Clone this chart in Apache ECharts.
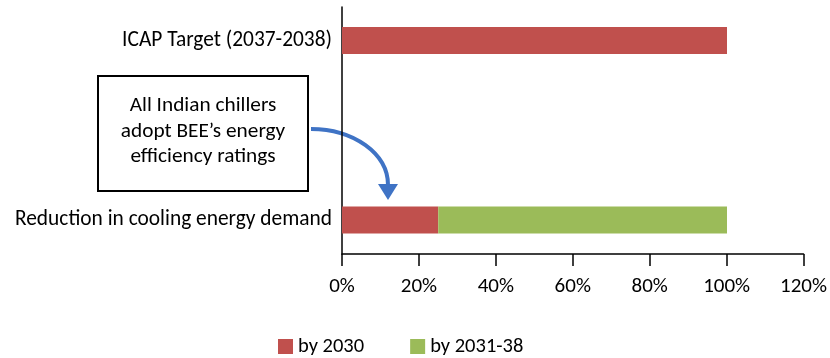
<!DOCTYPE html>
<html>
<head>
<meta charset="utf-8">
<script src="https://cdn.jsdelivr.net/npm/echarts@6/dist/echarts.min.js"></script>
<style>html,body{margin:0;padding:0;background:#fff;}#c{width:830px;height:358px;}</style>
</head>
<body>
<div id="c"></div>
<script>
const categories = ['Reduction in cooling energy demand', 'ICAP Target (2037-2038)'];
const seriesNames = ['by 2030', 'by 2031-38'];
const by2030 = [25, 100];
const by2031_38 = [75, 0];
const xTicks = [0, 20, 40, 60, 80, 100, 120];

const FONT = 'Carlito, Lato, sans-serif';
const chart = echarts.init(document.getElementById('c'), null, {renderer: 'canvas'});
chart.setOption({
  animation: false,
  textStyle: {fontFamily: FONT},
  grid: [
    {left: 342, right: 26, top: 7, bottom: 104},
    {left: 342, right: 26, top: 40.5, bottom: 138}
  ],
  xAxis: [
    {
      type: 'value', gridIndex: 0, min: xTicks[0], max: xTicks[xTicks.length - 1], interval: 20,
      axisLine: {show: true, lineStyle: {color: '#000', width: 1.5}},
      axisTick: {show: true, length: 12, lineStyle: {color: '#000', width: 1.5}},
      splitLine: {show: false},
      axisLabel: {formatter: '{value}%', fontSize: 21, color: '#000', margin: 22, fontFamily: FONT}
    },
    {type: 'value', gridIndex: 1, min: 0, max: 120, show: false}
  ],
  yAxis: [
    {
      type: 'category', gridIndex: 0, data: ['', ''],
      axisLine: {show: true, lineStyle: {color: '#000', width: 1.5}},
      axisTick: {show: false}, axisLabel: {show: false}
    },
    {
      type: 'category', gridIndex: 1, data: categories, boundaryGap: false,
      axisLine: {show: false}, axisTick: {show: false},
      axisLabel: {fontSize: 21.4, color: '#000', margin: 10, fontFamily: FONT}
    }
  ],
  legend: {
    left: 273, top: 331, icon: 'rect', itemWidth: 15, itemHeight: 15, itemGap: 46,
    textStyle: {fontSize: 20.5, color: '#000', fontFamily: FONT},
    data: seriesNames
  },
  series: [
    {name: seriesNames[0], type: 'bar', stack: 't', xAxisIndex: 1, yAxisIndex: 1, data: by2030, barWidth: 27, clip: false, itemStyle: {color: '#C0504D'}},
    {name: seriesNames[1], type: 'bar', stack: 't', xAxisIndex: 1, yAxisIndex: 1, data: by2031_38, barWidth: 27, clip: false, itemStyle: {color: '#9BBB59'}}
  ],
  graphic: [
    {type: 'rect', shape: {x: 98, y: 76, width: 210, height: 115}, style: {fill: '#fff', stroke: '#000', lineWidth: 2}},
    {type: 'text', x: 203, y: 131.5, style: {text: 'All Indian chillers\nadopt BEE\u2019s energy\nefficiency ratings', fontSize: 21.3, lineHeight: 25.5, fontFamily: FONT, fill: '#000', align: 'center', verticalAlign: 'middle'}},
    {type: 'bezierCurve', shape: {x1: 311, y1: 129, cpx1: 353.5, cpy1: 129, cpx2: 388, cpy2: 153.6, x2: 388, y2: 185}, style: {stroke: '#3F73C5', lineWidth: 4, fill: null}},
    {type: 'polygon', shape: {points: [[378, 184], [398, 184], [388, 200]]}, style: {fill: '#3F73C5'}}
  ]
});
</script>
</body>
</html>
